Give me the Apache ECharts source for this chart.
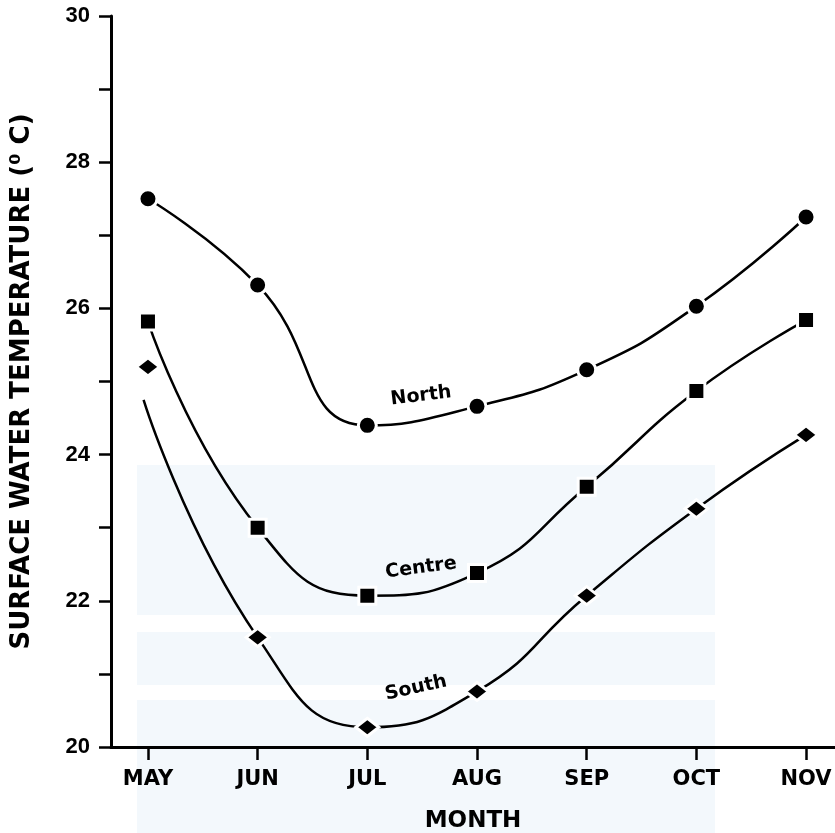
<!DOCTYPE html>
<html>
<head>
<meta charset="utf-8">
<script src="https://cdn.jsdelivr.net/npm/echarts@6/dist/echarts.min.js"></script>
<style>html,body{margin:0;padding:0;background:#fff}#c{width:835px;height:833px}</style>
</head>
<body>
<div id="c"></div>
<script>
const months = ['MAY', 'JUN', 'JUL', 'AUG', 'SEP', 'OCT', 'NOV'];
const north = [27.5, 26.32, 24.4, 24.66, 25.16, 26.03, 27.25];
const centre = [25.82, 23.0, 22.07, 22.38, 23.56, 24.87, 25.84];
const south = [25.2, 21.5, 20.27, 20.76, 22.07, 23.26, 24.27];
const southCurve = [24.75, 21.5, 20.27, 20.76, 22.07, 23.26, 24.27];
const yLabels = [20, 22, 24, 26, 28, 30];
const seriesNames = ['North', 'Centre', 'South'];

const monthIdx = months.map((m, i) => i);
const pts = arr => arr.map((v, i) => [i, v]);
const southCurvePts = southCurve.map((v, i) => [i === 0 ? -0.04 : i, v]);

const chart = echarts.init(document.getElementById('c'));
const FONT = '"Liberation Sans", Arial, sans-serif';
const WIDE = '"DejaVu Sans", sans-serif';
const lineStyle = { color: '#000', width: 2.5 };
const markerStyle = { color: '#000', borderColor: '#fff', borderWidth: 3, opacity: 1 };

chart.setOption({
  animation: false,
  backgroundColor: '#fff',
  grid: { left: 111, right: 0, top: 16, bottom: 86, outerBoundsMode: 'none', containLabel: false },
  xAxis: {
    type: 'value', min: -0.337, max: 6.264,
    name: 'MONTH', nameLocation: 'middle', nameGap: 63,
    nameTextStyle: { fontFamily: WIDE, fontWeight: 'bold', fontSize: 23, color: '#000' },
    axisLine: { onZero: false, lineStyle: { color: '#000', width: 3 } },
    axisTick: { show: true, customValues: monthIdx, length: 13, lineStyle: { color: '#000', width: 2.5 } },
    axisLabel: { customValues: monthIdx, margin: 22, formatter: v => months[Math.round(v)] || '',
      fontFamily: WIDE, fontWeight: 'bold', fontSize: 21, color: '#000' },
    splitLine: { show: false }
  },
  yAxis: {
    type: 'value', min: 20, max: 30, interval: 1,
    name: 'SURFACE WATER TEMPERATURE (\u2070 C)', nameLocation: 'middle', nameRotate: 90, nameGap: 76,
    nameTextStyle: { fontFamily: WIDE, fontWeight: 'bold', fontSize: 26, color: '#000' },
    axisLine: { show: true, onZero: false, lineStyle: { color: '#000', width: 3 } },
    axisTick: { show: true, length: 12, lineStyle: { color: '#000', width: 2.5 } },
    axisLabel: { margin: 21, formatter: v => (yLabels.indexOf(v) >= 0 ? String(v) : ''),
      fontFamily: FONT, fontWeight: 'bold', fontSize: 22, color: '#000' },
    splitLine: { show: false }
  },
  graphic: [
    { type: 'rect', z: -10, shape: { x: 137, y: 465, width: 578, height: 150 }, style: { fill: '#f3f8fc' } },
    { type: 'rect', z: -10, shape: { x: 137, y: 632, width: 578, height: 53 }, style: { fill: '#f3f8fc' } },
    { type: 'rect', z: -10, shape: { x: 137, y: 700, width: 578, height: 133 }, style: { fill: '#f3f8fc' } },
    { type: 'text', z: 100, x: 421, y: 396, rotation: 0.12,
      style: { text: seriesNames[0], font: 'bold 19px ' + WIDE, fill: '#000', textAlign: 'center', textVerticalAlign: 'middle' } },
    { type: 'text', z: 100, x: 421, y: 568, rotation: 0.13,
      style: { text: seriesNames[1], font: 'bold 19px ' + WIDE, fill: '#000', textAlign: 'center', textVerticalAlign: 'middle' } },
    { type: 'text', z: 100, x: 416, y: 688, rotation: 0.22,
      style: { text: seriesNames[2], font: 'bold 19px ' + WIDE, fill: '#000', textAlign: 'center', textVerticalAlign: 'middle' } }
  ],
  series: [
    { name: seriesNames[0], type: 'line', smooth: 0.5, showSymbol: false, data: pts(north), lineStyle: lineStyle, z: 2 },
    { name: seriesNames[1], type: 'line', smooth: 0.5, showSymbol: false, data: pts(centre), lineStyle: lineStyle, z: 2 },
    { name: seriesNames[2], type: 'line', smooth: 0.5, showSymbol: false, data: southCurvePts, lineStyle: lineStyle, z: 2 },
    { name: seriesNames[0] + ' pts', type: 'scatter', symbol: 'circle', symbolSize: 18, data: pts(north), itemStyle: markerStyle, z: 5 },
    { name: seriesNames[1] + ' pts', type: 'scatter', symbol: 'rect', symbolSize: 17, data: pts(centre), itemStyle: markerStyle, z: 5 },
    { name: seriesNames[2] + ' pts', type: 'scatter', symbol: 'diamond', symbolSize: [23, 18], data: pts(south), itemStyle: markerStyle, z: 5 }
  ]
});
</script>
</body>
</html>
